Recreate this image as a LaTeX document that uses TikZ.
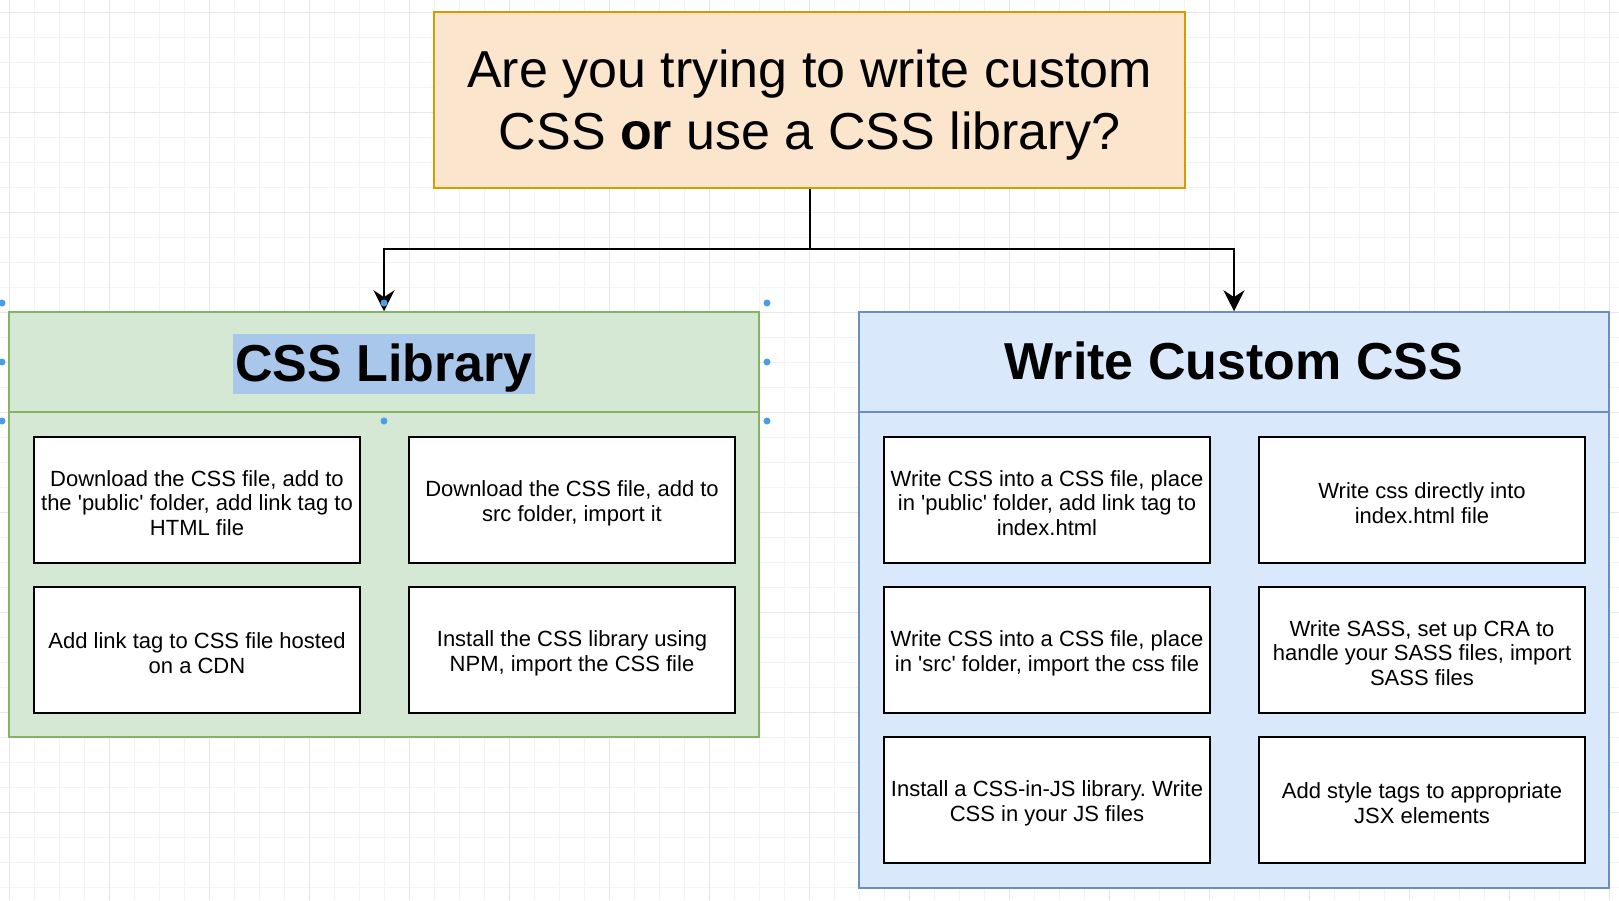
\documentclass[tikz,border=0pt]{standalone}
\usepackage{fontspec}
\setmainfont{Liberation Sans}[Ligatures=TeXOff]
\usetikzlibrary{arrows.meta}
\definecolor{askfill}{HTML}{FCE5CD}
\definecolor{askline}{HTML}{D79B00}
\definecolor{libfill}{HTML}{D5E8D4}
\definecolor{libline}{HTML}{82B366}
\definecolor{ownfill}{HTML}{DAE8FC}
\definecolor{ownline}{HTML}{6C8EBF}
\definecolor{selblue}{HTML}{A9C6EB}
\definecolor{handleblue}{HTML}{4A9DE6}
\definecolor{gridminor}{HTML}{F3F3F3}
\definecolor{gridmajor}{HTML}{E6E6E6}
\newcommand{\topstrut}{\rule{0pt}{22pt}}
\frenchspacing

\begin{document}
\begin{tikzpicture}[x=1pt,y=-1pt,
  head/.style={rectangle,minimum width=750pt,minimum height=100pt,line width=1.5pt},
  body/.style={rectangle,minimum width=750pt,line width=1.5pt},
  item/.style={rectangle,draw=black,fill=white,line width=2pt,minimum width=326pt,minimum height=126pt,inner sep=0pt,align=center,font=\fontsize{22}{24.7}\selectfont},
  title/.style={anchor=base,font=\fontsize{52}{62}\selectfont\bfseries,text height=47pt,text depth=13pt,inner ysep=0pt,inner xsep=2pt},
  conn/.style={line width=2pt,-{Stealth[length=21pt,width=21pt]}}]
\useasboundingbox (0,0) rectangle (1619,900);

% background grid
\fill[white] (0,0) rectangle (1619,900);
\foreach \gx in {9,34,...,1609} \draw[gridminor,line width=1pt] (\gx,0) -- (\gx,900);
\foreach \gy in {12,37,...,887} \draw[gridminor,line width=1pt] (0,\gy) -- (1619,\gy);
\foreach \gx in {9,109,...,1609} \draw[gridmajor,line width=1pt] (\gx,0) -- (\gx,900);
\foreach \gy in {12,112,...,812} \draw[gridmajor,line width=1pt] (0,\gy) -- (1619,\gy);

\node at (809.5,100) [rectangle,draw=askline,fill=askfill,line width=2pt,minimum width=751pt,minimum height=176pt,align=center,font=\fontsize{52}{62}\selectfont] (ask) {\rule{0pt}{48pt}Are you trying to write custom\\
									    CSS \textbf{or} use a CSS library?};

% css library
\node at (384,574.5) [body,fill=libfill,draw=libline,minimum height=325pt] (libbody) {};
\node at (384,362) [head,fill=libfill,draw=libline] (libhead) {};
\node at (384,381) [title,fill=selblue] (libtitle) {CSS Library};

\node at (197,500) [item] (dlpublic) {\topstrut Download the CSS file, add to\\
									    the 'public' folder, add link tag to\\
									    HTML file};
\node at (572,500) [item] (dlsrc) {\topstrut Download the CSS file, add to\\
									    src folder, import it};
\node at (197,650) [item] (cdn) {\topstrut Add link tag to CSS file hosted\\
									    on a CDN};
\node at (572,650) [item] (npm) {\topstrut Install the CSS library using\\
									    NPM, import the CSS file};

% custom css
\node at (1234,650) [body,fill=ownfill,draw=ownline,minimum height=476pt] (ownbody) {};
\node at (1234,362) [head,fill=ownfill,draw=ownline] (ownhead) {};
\node at (1234,379) [title] (owntitle) {Write Custom CSS};

\node at (1047,500) [item] (csspublic) {\topstrut Write CSS into a CSS file, place\\
									    in 'public' folder, add link tag to\\
									    index.html};
\node at (1422,500) [item] (inline) {\topstrut Write css directly into\\
									    index.html file};
\node at (1047,650) [item] (csssrc) {\topstrut Write CSS into a CSS file, place\\
									    in 'src' folder, import the css file};
\node at (1422,650) [item] (sass) {\topstrut Write SASS, set up CRA to\\
									    handle your SASS files, import\\
									    SASS files};
\node at (1047,800) [item] (cssinjs) {\topstrut Install a CSS-in-JS library. Write\\
									    CSS in your JS files};
\node at (1422,800) [item] (styletags) {\topstrut Add style tags to appropriate\\
									    JSX elements};

\coordinate (split) at (809.5,249);
\draw[conn] (ask.south) -- (split) -| (libhead.north);
\draw[conn] (split) -| (ownhead.north);

% selection handles
\foreach \hx/\hy in {2/303,384/303,767/303,2/362,767/362,2/421,384/421,767/421}
  \fill[handleblue] (\hx,\hy) circle (3.5pt);
\end{tikzpicture}
\end{document}
